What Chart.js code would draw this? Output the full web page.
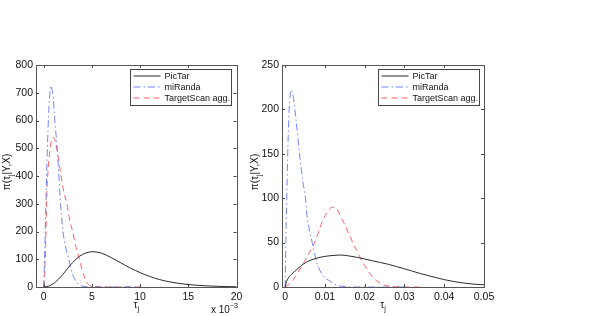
<!DOCTYPE html>
<html><head><meta charset="utf-8">
<script src="https://cdn.jsdelivr.net/npm/chart.js@4/dist/chart.umd.min.js"></script>
<style>
html,body{margin:0;padding:0;background:#fff;}
body{width:610px;height:316px;position:relative;overflow:hidden;}
#wl{position:absolute;left:0;top:0;width:250px;height:316px;}
#wr{position:absolute;left:248px;top:0;width:252px;height:316px;}
</style></head>
<body>
<div id="wl"><canvas id="cl"></canvas></div>
<div id="wr"><canvas id="cr"></canvas></div>
<script>
// ---------- data (left panel: tau in units of 1e-3) ----------
const seriesNames = ['PicTar', 'miRanda', 'TargetScan agg.'];

const leftPicTarX = [0,0.5,1,1.5,2,2.5,3,3.5,4,4.5,5,5.5,6,7,8,9,10,11,12,13,14,15,16,17,18,19,20];
const leftPicTarY = [0,3,12,27,46,68,88,105,117,124,127,126,122,106,87,68,52,38,27,19,13,9,6,4,2.5,1.5,1];

const leftMiRandaX = [0,0.1,0.2,0.3,0.4,0.5,0.6,0.75,0.9,1.0,1.15,1.4,1.75,2.0,2.3,2.6,3.0,3.4,3.75,4.2,5,6,8,10];
const leftMiRandaY = [0,120,260,400,520,615,680,725,705,680,600,500,300,200,140,100,45,18,6,2,0.5,0,0,0];

const leftTargetScanX = [0,0.1,0.2,0.3,0.45,0.6,0.75,0.97,1.2,1.5,1.8,2.1,2.4,2.7,3.0,3.3,3.7,4.0,4.3,4.6,5,6,7,10];
const leftTargetScanY = [0,40,150,310,420,480,520,540,525,470,400,340,300,240,200,150,100,60,30,10,3,0.5,0,0];

const leftXTicks = [0,5,10,15,20];
const leftXTickLabels = ['0','5','10','15','20'];
const leftYTicks = [0,100,200,300,400,500,600,700,800];

// ---------- data (right panel: tau) ----------
const rightPicTarX = [0,0.0002,0.0005,0.001,0.0015,0.002,0.003,0.004,0.005,0.006,0.008,0.010,0.012,0.014,0.016,0.018,0.020,0.022,0.024,0.026,0.028,0.030,0.032,0.034,0.036,0.038,0.040,0.042,0.044,0.046,0.048,0.050];
const rightPicTarY = [0,4,8,11.5,14,16,20,24,27,29.5,32.5,34.5,35.5,36,35,33.5,31.5,29.5,27.5,25.5,23,20.5,17.8,15.2,12.8,10.5,8.3,6.5,5,3.9,3,2.5];

const rightMiRandaX = [0,0.0002,0.0004,0.0007,0.001,0.0015,0.002,0.0028,0.0036,0.0044,0.0051,0.0055,0.0062,0.0068,0.008,0.0095,0.0115,0.013,0.015,0.018,0.024,0.030];
const rightMiRandaY = [0,60,100,160,200,222,215,185,150,120,100,80,62,50,27,13,6,2,0.5,0,0,0];

const rightTargetScanX = [0,0.001,0.002,0.003,0.004,0.005,0.006,0.007,0.008,0.009,0.010,0.011,0.012,0.013,0.014,0.015,0.016,0.017,0.018,0.019,0.020,0.021,0.022,0.023,0.024,0.025,0.026,0.028,0.030,0.034];
const rightTargetScanY = [0,3,8,15,22,30,38,46,57,70,80,87,90,88,79,70,60,50,41,32,24,17,11,7,4,2,1,0.3,0,0];

const rightXTicks = [0,0.01,0.02,0.03,0.04,0.05];
const rightXTickLabels = ['0','0.01','0.02','0.03','0.04','0.05'];
const rightYTicks = [0,50,100,150,200,250];

// ---------- styles ----------
const FONT = '"Liberation Sans", Arial, Helvetica, sans-serif';
const styles = [
  {color:'#2b2b2b', dash:[]},
  {color:'rgba(90,110,255,0.85)', dash:[7,3,1.5,3]},
  {color:'rgba(255,80,80,0.9)', dash:[6,4]}
];

function pts(xs, ys){ return xs.map((x,i)=>({x:x, y:ys[i]})); }

function drawSubText(ctx, parts, cx, cy, size){
  const w = parts.map(p=>{ctx.font=(p[1]==='n'?size:size*0.72)+'px '+FONT; return ctx.measureText(p[0]).width;});
  const total = w.reduce((a,b)=>a+b,0);
  let x = cx - total/2;
  ctx.textBaseline='middle'; ctx.textAlign='left';
  parts.forEach((p,i)=>{
    ctx.font=(p[1]==='n'?size:size*0.72)+'px '+FONT;
    const dy = p[1]==='sub'? size*0.38 : (p[1]==='sup'? -size*0.4 : 0);
    ctx.fillText(p[0], x, cy+dy);
    x += w[i];
  });
}

const decor = {
  id:'decor',
  afterDraw(chart, args, o){
    const ctx = chart.ctx, a = chart.chartArea;
    const xs = chart.scales.x, ys = chart.scales.y;
    ctx.save();
    ctx.strokeStyle = '#444'; ctx.lineWidth = 1; ctx.setLineDash([]);
    ctx.beginPath();
    o.xt.forEach(v=>{ const p = Math.round(xs.getPixelForValue(v))+0.5;
      ctx.moveTo(p, a.bottom); ctx.lineTo(p, a.bottom-3);
      ctx.moveTo(p, a.top); ctx.lineTo(p, a.top+3); });
    o.yt.forEach(v=>{ const p = Math.round(ys.getPixelForValue(v))+0.5;
      ctx.moveTo(a.left, p); ctx.lineTo(a.left+3, p);
      ctx.moveTo(a.right, p); ctx.lineTo(a.right-3, p); });
    ctx.stroke();
    ctx.strokeStyle = '#555';
    ctx.strokeRect(Math.round(a.left)+0.5, Math.round(a.top)+0.5, Math.round(a.right-a.left), Math.round(a.bottom-a.top));
    // legend
    const bw = 101, bh = 36;
    const bx = Math.round(a.right - o.legRight - bw)+0.5, by = Math.round(a.top + 4)+0.5;
    ctx.fillStyle = '#fff'; ctx.fillRect(bx, by, bw, bh);
    ctx.strokeStyle = '#444'; ctx.strokeRect(bx, by, bw, bh);
    chart.data.datasets.forEach((d,i)=>{
      const yy = by + 6.5 + i*11;
      ctx.strokeStyle = d.borderColor; ctx.setLineDash(d.borderDash||[]);
      ctx.beginPath(); ctx.moveTo(bx+3, yy); ctx.lineTo(bx+30, yy); ctx.stroke();
      ctx.setLineDash([]);
      ctx.fillStyle = '#111'; ctx.font = '9px '+FONT; ctx.textAlign='left'; ctx.textBaseline='middle';
      ctx.fillText(d.label, bx+34, yy+0.5);
    });
    ctx.fillStyle = '#111';
    const cx = (a.left + a.right)/2;
    drawSubText(ctx, [['\u03c4','n'],['j','sub']], cx, 305, 10);
    if (o.exp) drawSubText(ctx, [['x 10','n'],['\u22123','sup']], a.right-12, 310, 10);
    ctx.save();
    ctx.translate(o.ylabX, 172); ctx.rotate(-Math.PI/2);
    drawSubText(ctx, [['\u03c0(\u03c4','n'],['j','sub'],['|Y,X)','n']], 0, 0, 10);
    ctx.restore();
    ctx.restore();
  }
};

function makeChart(id, sets, xmin, xmax, ymax, xt, xtl, yt, yWidth, padRight, opts){
  const datasets = sets.map((s,i)=>({
    label: seriesNames[i], data: pts(s[0], s[1]),
    borderColor: styles[i].color, borderDash: styles[i].dash, borderWidth: 1,
    pointRadius: 0, fill: false, cubicInterpolationMode: 'monotone', clip: 0
  }));
  return new Chart(document.getElementById(id), {
    type: 'line',
    data: { datasets },
    options: {
      responsive: true, maintainAspectRatio: false, animation: false,
      layout: { padding: { top: 65, right: padRight, left: 0, bottom: 0 } },
      plugins: { legend: {display:false}, tooltip: {enabled:false}, decor: opts },
      scales: {
        x: { type: 'linear', min: xmin, max: xmax,
          grid: { display: false, drawTicks: false }, border: { display: false },
          afterBuildTicks: s => { s.ticks = xt.map(v=>({value:v})); },
          afterFit: s => { s.height = 29; },
          ticks: { autoSkip: false, maxRotation: 0, padding: 4, color: '#111',
            font: { family: FONT, size: 10.5 },
            callback: (v, i) => xtl[i] } },
        y: { type: 'linear', min: 0, max: ymax,
          grid: { display: false, drawTicks: false }, border: { display: false },
          afterBuildTicks: s => { s.ticks = yt.map(v=>({value:v})); },
          afterFit: s => { s.width = yWidth; },
          ticks: { autoSkip: false, padding: 3, color: '#111',
            font: { family: FONT, size: 10.5 } } }
      }
    },
    plugins: [decor]
  });
}

makeChart('cl', [[leftPicTarX,leftPicTarY],[leftMiRandaX,leftMiRandaY],[leftTargetScanX,leftTargetScanY]],
  -0.8, 20, 800, leftXTicks, leftXTickLabels, leftYTicks, 36, 13.5,
  { xt: leftXTicks, yt: leftYTicks, legRight: 5.5, exp: true, ylabX: 7 });
makeChart('cr', [[rightPicTarX,rightPicTarY],[rightMiRandaX,rightMiRandaY],[rightTargetScanX,rightTargetScanY]],
  -0.0008, 0.05, 250, rightXTicks, rightXTickLabels, rightYTicks, 34, 16,
  { xt: rightXTicks, yt: rightYTicks, legRight: 4.7, exp: false, ylabX: 7 });
</script>
</body></html>
